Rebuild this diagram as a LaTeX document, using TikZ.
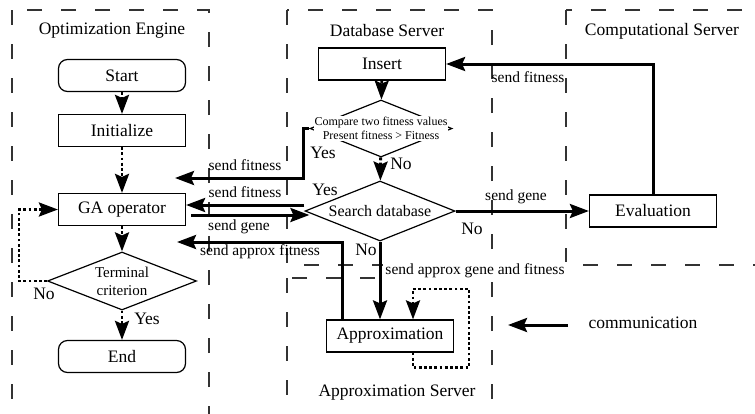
\documentclass[tikz,border=0pt]{standalone}
\usepackage{fontspec}
\setmainfont{Liberation Serif}
\usetikzlibrary{arrows.meta,shapes.geometric}

\begin{document}
\begin{tikzpicture}[x=1pt,y=-1pt,
  region/.style={draw=black!80, line width=1.2pt, dash pattern=on 15pt off 19pt},
  box/.style={draw, line width=1.2pt, rectangle, minimum width=127pt, minimum height=32pt,
    inner sep=0pt, font=\fontsize{17.5}{20}\selectfont},
  term/.style={box, rounded corners=9pt},
  dec/.style={draw, line width=1.2pt, diamond, inner sep=0pt, aspect=2.5},
  title/.style={font=\fontsize{17.5}{20}\selectfont, inner sep=0pt},
  lbl/.style={font=\fontsize{15.5}{18}\selectfont, inner sep=0pt},
  yn/.style={font=\fontsize{17.5}{20}\selectfont, inner sep=0pt},
  tip/.style={-{Stealth[length=19pt,width=14pt,inset=3pt]}},
  flow/.style={tip, line width=2.8pt, dash pattern=on 2.8pt off 2.4pt},
  comm/.style={tip, line width=3pt}
]
\path[use as bounding box, clip] (0,0) rectangle (755,413);

% server regions
\draw[region] (12,10) rectangle (209,440);
\draw[region] (287,10) rectangle (492,265);
\draw[region] (566,10) rectangle (790,265);
\draw[region] (287,278) rectangle (492,440);

\node[title] (tOE) at (112,31) {Optimization Engine};
\node[title] (tDB) at (387,31) {Database Server};
\node[title] (tCS) at (662,31) {Computational Server};
\node[title] (tAS) at (397,393) {Approximation Server};

% optimization engine
\node[term] (start) at (122,75.5) {Start};
\node[box] (init) at (122,130.5) {Initialize};
\node[box] (ga) at (122,209.5) {GA operator};
\node[dec, minimum width=149pt, minimum height=58pt, align=center,
  font=\fontsize{15}{18}\selectfont] (crit) at (122,281) {Terminal\\criterion};
\node[term] (end) at (122,356.5) {End};

\draw[flow] (start) -- (init);
\draw[flow] (init) -- (ga);
\draw[flow] (ga) -- (crit);
\draw[flow] (crit) -- (end);
\draw[flow] (crit.west) -- ++(-28,0) |- (ga.west);
\node[yn] (yes1) at (147,319) {Yes};
\node[yn] (no1) at (44,294) {No};

% database server
\node[box] (ins) at (382,64) {Insert};
\node[dec, minimum width=142pt, minimum height=57pt] (cmp) at (381,128.5) {};
\node[fill=white, inner sep=1pt, align=center, font=\fontsize{12}{13.5}\selectfont]
  (cmptxt) at (cmp.center) {Compare two fitness values\\Present fitness > Fitness};
\node[dec, minimum width=150pt, minimum height=60pt,
  font=\fontsize{16}{18}\selectfont] (srch) at (380,211) {Search database};

\draw[flow] (ins) -- (cmp);
\draw[flow] (cmp) -- (srch);
\node[yn] (yes2) at (323,153) {Yes};
\node[yn] (no2) at (401,164) {No};
\node[yn] (yes3) at (325,190) {Yes};
\node[yn] (no3) at (472,229) {No};
\node[yn] (no4) at (366,250) {No};

% computational and approximation servers
\node[box] (eval) at (653,211) {Evaluation};
\node[box] (apx) at (390,336) {Approximation};

% communication between servers
\coordinate (fit1) at (175,178);
\coordinate (afit) at (177,242);
\draw[comm] (cmp.west) -| (303,178) -- (fit1);
\draw[comm] ([yshift=6pt]srch.west) -- ([yshift=6pt]srch.west -| ga.east);
\draw[comm] ([xshift=5pt,yshift=-5.5pt]ga.east) -- ([xshift=5pt,yshift=-5.5pt]ga.east -| srch.west);
\draw[comm] ([xshift=-48pt]apx.north) |- (afit);
\draw[comm] (srch.east) -- (srch.east -| eval.west);
\draw[comm] (eval.north) |- (ins.east);
\draw[comm] (srch.south) -- (srch.south |- apx.north);
\draw[flow] ([xshift=23pt]apx.south) -- ++(0,15) -| (469,289) -| ([xshift=23pt]apx.north);

\node[lbl] (l1) at (245,165) {send fitness};
\node[lbl] (l2) at (245,192) {send fitness};
\node[lbl] (l3) at (239,227) {send gene};
\node[lbl] (l4) at (260,252) {send approx fitness};
\node[lbl] (l5) at (516,197) {send gene};
\node[lbl] (l6) at (528,77) {send fitness};
\node[lbl, fill=white, inner sep=2pt] (l7) at (475,271) {send approx gene and fitness};

% legend
\coordinate (legA) at (568,325);
\coordinate (legB) at (508,325);
\draw[comm] (legA) -- (legB);
\node[title] (leg) at (643,323) {communication};
\end{tikzpicture}
\end{document}
